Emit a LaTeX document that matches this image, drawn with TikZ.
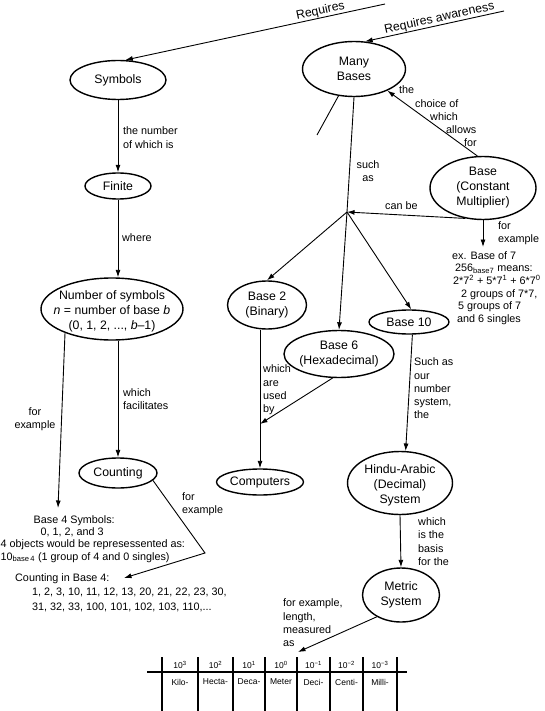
\documentclass[tikz,border=0pt]{standalone}
\usepackage{fontspec}
\setmainfont{Liberation Sans}
\usetikzlibrary{shapes.geometric,arrows.meta}
\begin{document}
\begin{tikzpicture}[x=1pt,y=-1pt,
  ell/.style={draw, ellipse, line width=1.4pt, inner sep=0pt},
  etxt/.style={font=\fontsize{12.3}{15}\selectfont, align=center, inner sep=0pt},
  lbl/.style={font=\fontsize{10.8}{13.3}\selectfont, align=left, inner sep=0pt, anchor=west},
  conn/.style={line width=0.9pt},
  arr/.style={conn, -{Latex[length=7.5pt,width=5pt]}},
  arrR/.style={conn, {Latex[length=7.5pt,width=5pt]}-},
  tab/.style={line width=1.1pt},
  tabtxt/.style={font=\fontsize{8.5}{10}\selectfont, inner sep=0pt},
  big/.style={font=\fontsize{12.3}{15}\selectfont, inner sep=0pt}
]
\useasboundingbox (0,0) rectangle (545,711);

% ---------- ellipses ----------
\node[ell, minimum width=96pt, minimum height=39pt] (sym) at (118,80) {};
\node[etxt] (tsym) at (sym) {Symbols};
\node[ell, minimum width=103pt, minimum height=55pt] (many) at (354,69) {};
\node[etxt] (tmany) at (many) {Many\\Bases};
\node[ell, minimum width=66pt, minimum height=26pt] (fin) at (118,186) {};
\node[etxt] (tfin) at (fin) {Finite};
\node[ell, minimum width=142pt, minimum height=62pt] (num) at (112,309) {};
\node[etxt] (tnum) at (112,311) {Number of symbols\\\textit{n} = number of base \textit{b}\\(0, 1, 2, ..., \textit{b}–1)};
\node[ell, minimum width=78pt, minimum height=30pt] (cnt) at (118,473) {};
\node[etxt] (tcnt) at (cnt) {Counting};
\node[ell, minimum width=106pt, minimum height=63pt] (bcm) at (483,188) {};
\node[etxt] (tbcm) at (bcm) {Base\\(Constant\\Multiplier)};
\node[ell, minimum width=79pt, minimum height=48pt] (b2) at (267,305) {};
\node[etxt] (tb2) at (b2) {Base 2\\(Binary)};
\node[ell, minimum width=110pt, minimum height=47pt] (b6) at (339,354) {};
\node[etxt] (tb6) at (b6) {Base 6\\(Hexadecimal)};
\node[ell, minimum width=80pt, minimum height=24pt] (b10) at (409,322) {};
\node[etxt] (tb10) at (b10) {Base 10};
\node[ell, minimum width=87pt, minimum height=26pt] (comp) at (260,482) {};
\node[etxt] (tcomp) at (comp) {Computers};
\node[ell, minimum width=105pt, minimum height=63pt] (hindu) at (400,483) {};
\node[etxt] (thindu) at (400,485) {Hindu-Arabic\\(Decimal)\\System};
\node[ell, minimum width=77pt, minimum height=54pt] (metric) at (401,595) {};
\node[etxt] (tmetric) at (metric) {Metric\\System};

% ---------- top incoming links ----------
\coordinate (reqS) at (385,4);
\coordinate (reqA) at (504,11);
\draw[arrR] (sym.70) -- node[big, pos=0.757, sloped, above=0.5pt] (lreq) {Requires} (reqS);
\draw[arrR] (many.68) -- node[big, pos=0.545, sloped, above=0.5pt] (lreqa) {Requires awareness} (reqA);

% ---------- left branch ----------
\draw[arr] (sym.south) -- (fin.north);
\node[lbl] (l1) at (123,137.5) {the number\\of which is};
\draw[arr] (fin.south) -- (fin.south |- num.north);
\node[lbl] (l2) at (122,238) {where};
\draw[arr] (cnt.north |- num.south) -- (cnt.north);
\node[lbl] (l3) at (123,399) {which\\facilitates};
\coordinate (b4tip) at (58,508);
\draw[arr] (num.207) -- (b4tip);
\node[lbl, align=center, anchor=center] (l4) at (35,419) {for\\example};
\node[lbl, font=\fontsize{10.8}{12.3}\selectfont] (b4) at (0.5,539) {\hspace*{33pt}Base 4 Symbols:\\\hspace*{40pt}0, 1, 2, and 3\\4 objects would be represessented as:\\10\textsubscript{base\,4} (1 group of 4 and 0 singles)};
\coordinate (bend) at (205,553);
\coordinate (c4tip) at (124,578);
\draw[arr] (cnt.-12) -- (bend) -- (c4tip);
\node[lbl] (l5) at (182,504) {for\\example};
\node[lbl, font=\fontsize{10.8}{14.4}\selectfont] (c4) at (15,592.5) {Counting in Base 4:\\\hspace*{17pt}1, 2, 3, 10, 11, 12, 13, 20, 21, 22, 23, 30,\\\hspace*{17pt}31, 32, 33, 100, 101, 102, 103, 110,...};

% ---------- right branch ----------
\coordinate (junc) at (347,212);
\coordinate (stray) at (317,135);
\draw[conn] (many.240) -- (stray);
\draw[conn] (many.south) -- (junc);
\node[lbl, align=center, anchor=center] (l6) at (368,171) {such\\as};
\draw[arr] (junc) -- (b2.north);
\draw[arr] (junc) -- (b6.north);
\draw[arr] (junc) -- (b10.80);
\draw[arr] (bcm.240) -- (junc);
\node[lbl] (l7) at (385,206) {can be};
\draw[arr] (bcm.100) -- (many.-33);
\node[lbl] (l8) at (399,116.5) {the\\\hspace*{16pt}choice of\\\hspace*{31pt}which\\\hspace*{47pt}allows\\\hspace*{65pt}for};
\coordinate (extip) at (483,247);
\draw[arr] (bcm.south) -- (extip);
\node[lbl] (l9) at (498,233.5) {for\\example};
\node[lbl, font=\fontsize{10.8}{12.6}\selectfont] (ex) at (452,288) {ex. Base of 7\\\hspace*{3pt}256\textsubscript{base7} means:\\\hspace*{1pt}2*7\textsuperscript{2} + 5*7\textsuperscript{1} + 6*7\textsuperscript{0}\\\hspace*{9pt}2 groups of 7*7,\\\hspace*{6pt}5 groups of 7\\\hspace*{5pt}and 6 singles};

\draw[arr] (comp.north |- b2.south) -- (comp.north);
\coordinate (cjoin) at (260,424);
\draw[arr] (b6.255) -- (cjoin);
\node[lbl] (l10) at (263,390) {which\\are\\used\\by};

\draw[arr] (b10.-75) -- (hindu.80);
\node[lbl] (l11) at (414,388.5) {Such as\\our\\number\\system,\\the};
\draw[arr] (hindu.south) -- (metric.north);
\node[lbl] (l12) at (418,541.5) {which\\is the\\basis\\for the};
\coordinate (tabtip) at (298,652);
\draw[arr] (metric.222) -- (tabtip);
\node[lbl] (l13) at (283,623) {for example,\\length,\\measured\\as};

% ---------- table ----------
\coordinate (tl) at (147,672);
\coordinate (tr) at (407,672);
\draw[tab] (tl) -- (tr);
\foreach \x in {162,198,233,265,297,330,363,397} \draw[tab] (\x,657) -- (\x,711);
\foreach \c/\p/\n [count=\i] in {180/3/Kilo-, 215.5/2/Hecta-, 249/1/Deca-, 281/0/Meter, 313.5/{−1}/Deci-, 346.5/{−2}/Centi-, 380/{−3}/Milli-} {
  \node[tabtxt] (hd\i) at (\c,665) {10\textsuperscript{\p}};
  \node[tabtxt] (nm\i) at (\c,682) {\n};
}
\end{tikzpicture}
\end{document}
